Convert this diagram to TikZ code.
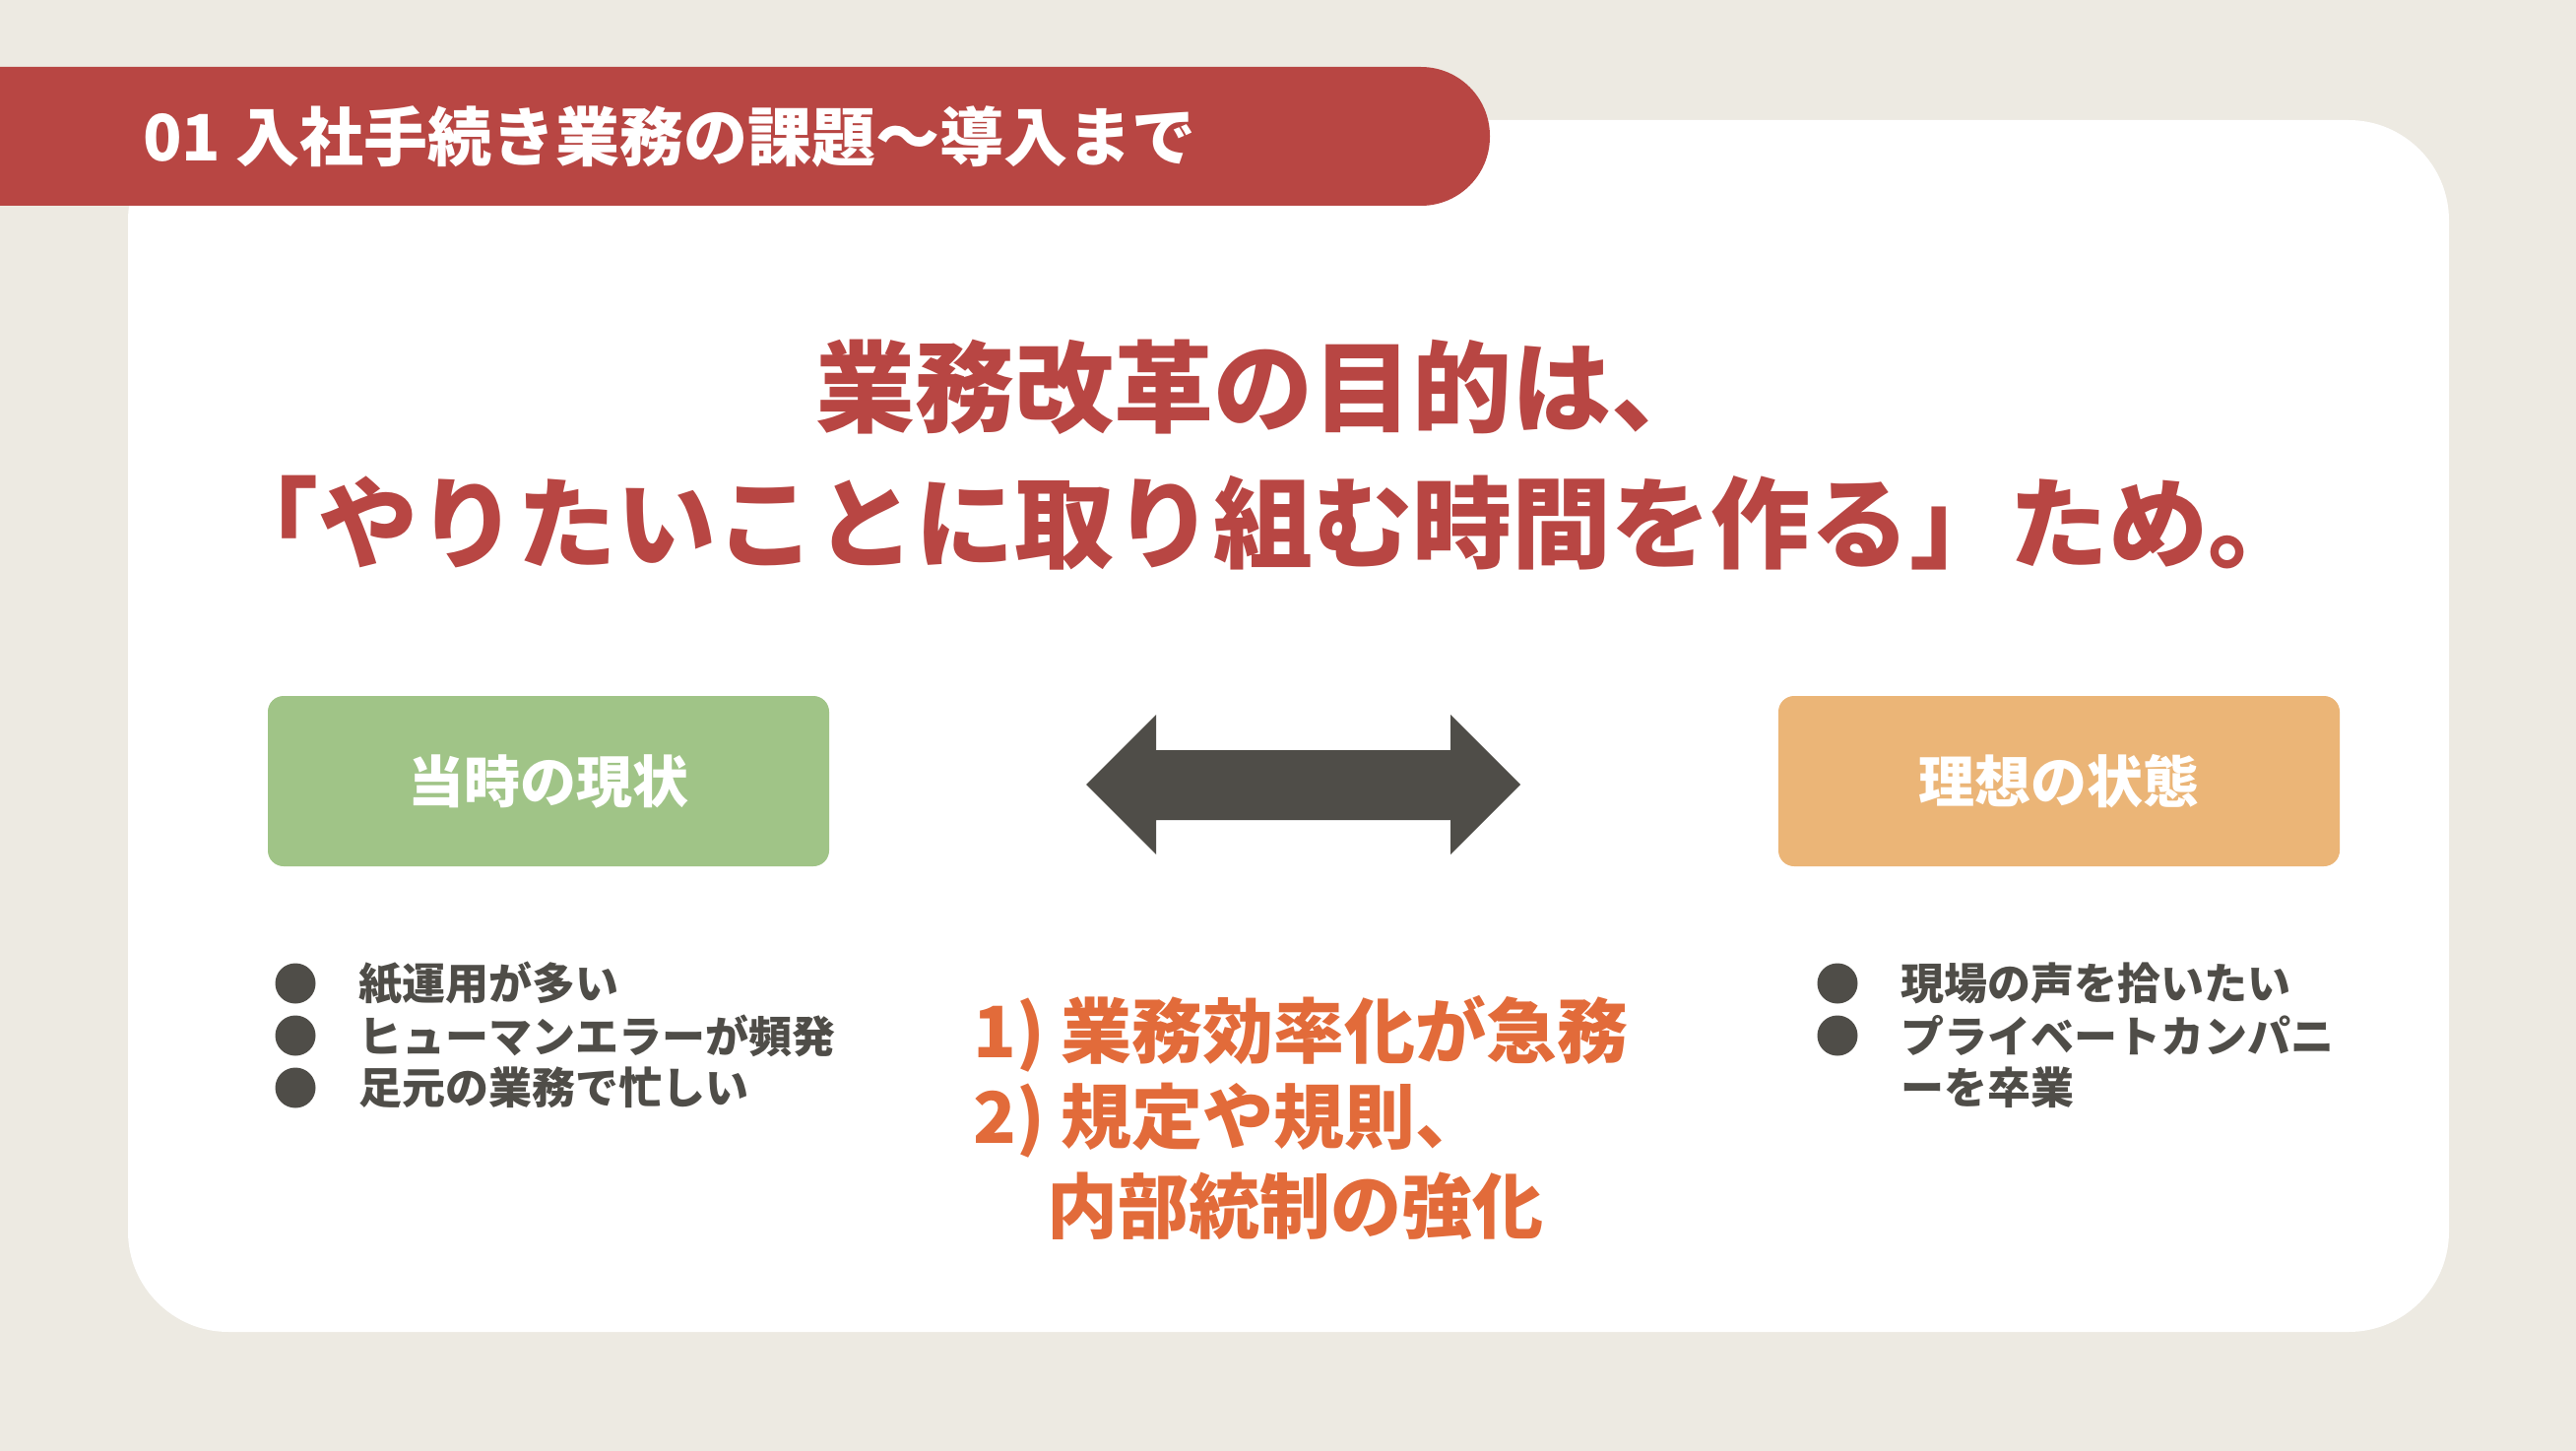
\documentclass[tikz,border=0pt]{standalone}
\usepackage{fontspec}
\setmainfont{Noto Sans CJK JP}
\definecolor{bgbeige}{HTML}{EDEAE2}
\definecolor{hdred}{HTML}{B84643}
\definecolor{boxgreen}{HTML}{A0C487}
\definecolor{boxorange}{HTML}{EBB577}
\definecolor{darkgray}{HTML}{4F4D48}
\definecolor{txtorange}{HTML}{E26B3A}
\tikzset{
  headtxt/.style={font=\fontsize{65}{78}\selectfont\bfseries, text=white, inner sep=0pt, anchor=west},
  titletxt/.style={font=\fontsize{101}{120}\selectfont\bfseries, text=hdred, inner sep=0pt},
  labelbox/.style={rounded corners=16pt, minimum width=570pt, minimum height=173pt, inner sep=0pt, font=\fontsize{57}{68}\selectfont\bfseries, text=white},
  bullettxt/.style={font=\fontsize{44}{52}\selectfont\bfseries, text=darkgray, inner sep=0pt, anchor=west},
  bulletdot/.style={circle, fill=darkgray, minimum size=41pt, inner sep=0pt},
  pointtxt/.style={font=\fontsize{72}{86}\selectfont\bfseries, text=txtorange, inner sep=0pt, anchor=west}
}
\begin{document}
\begin{tikzpicture}[x=1pt,y=-1pt]
\fill[bgbeige] (0,0) rectangle (2616,1474);
\useasboundingbox (0,0) rectangle (2616,1474);
% white card
\fill[white, rounded corners=102pt] (130,122) rectangle (2487,1353);
% header band
\fill[hdred, rounded corners=70pt] (-200,68) rectangle (1513,209);
\node[headtxt] (head) at (145,139) {01 入社手続き業務の課題〜導入まで};
% title
\node[titletxt] (title1) at (1283,393) {業務改革の目的は、};
\node[titletxt] (title2) at (1283,531) {「やりたいことに取り組む時間を作る」ため。};
% label boxes
\node[labelbox, fill=boxgreen] (now) at (557,793.5) {当時の現状};
\node[labelbox, fill=boxorange] (ideal) at (2091,793.5) {理想の状態};
% double arrow
\fill[darkgray] (1103,797) -- (1174,726) -- (1174,762) -- (1473,762) -- (1473,726) -- (1544,797) -- (1473,868) -- (1473,833) -- (1174,833) -- (1174,868) -- cycle;
% left bullets
\node[bulletdot] (ld1) at (300,999) {};
\node[bulletdot] (ld2) at (300,1052) {};
\node[bulletdot] (ld3) at (300,1105) {};
\node[bullettxt] (lt1) at (364,999) {紙運用が多い};
\node[bullettxt] (lt2) at (364,1052) {ヒューマンエラーが頻発};
\node[bullettxt] (lt3) at (364,1105) {足元の業務で忙しい};
% right bullets
\node[bulletdot] (rd1) at (1866,999) {};
\node[bulletdot] (rd2) at (1866,1052) {};
\node[bullettxt] (rt1) at (1930,999) {現場の声を拾いたい};
\node[bullettxt] (rt2) at (1930,1052) {プライベートカンパニ};
\node[bullettxt] (rt3) at (1930,1105) {ーを卒業};
% center points
\node[pointtxt] (p1) at (988,1050) {1) 業務効率化が急務};
\node[pointtxt] (p2) at (988,1138) {2) 規定や規則、};
\node[pointtxt] (p3) at (1063,1225) {内部統制の強化};
\end{tikzpicture}
\end{document}
